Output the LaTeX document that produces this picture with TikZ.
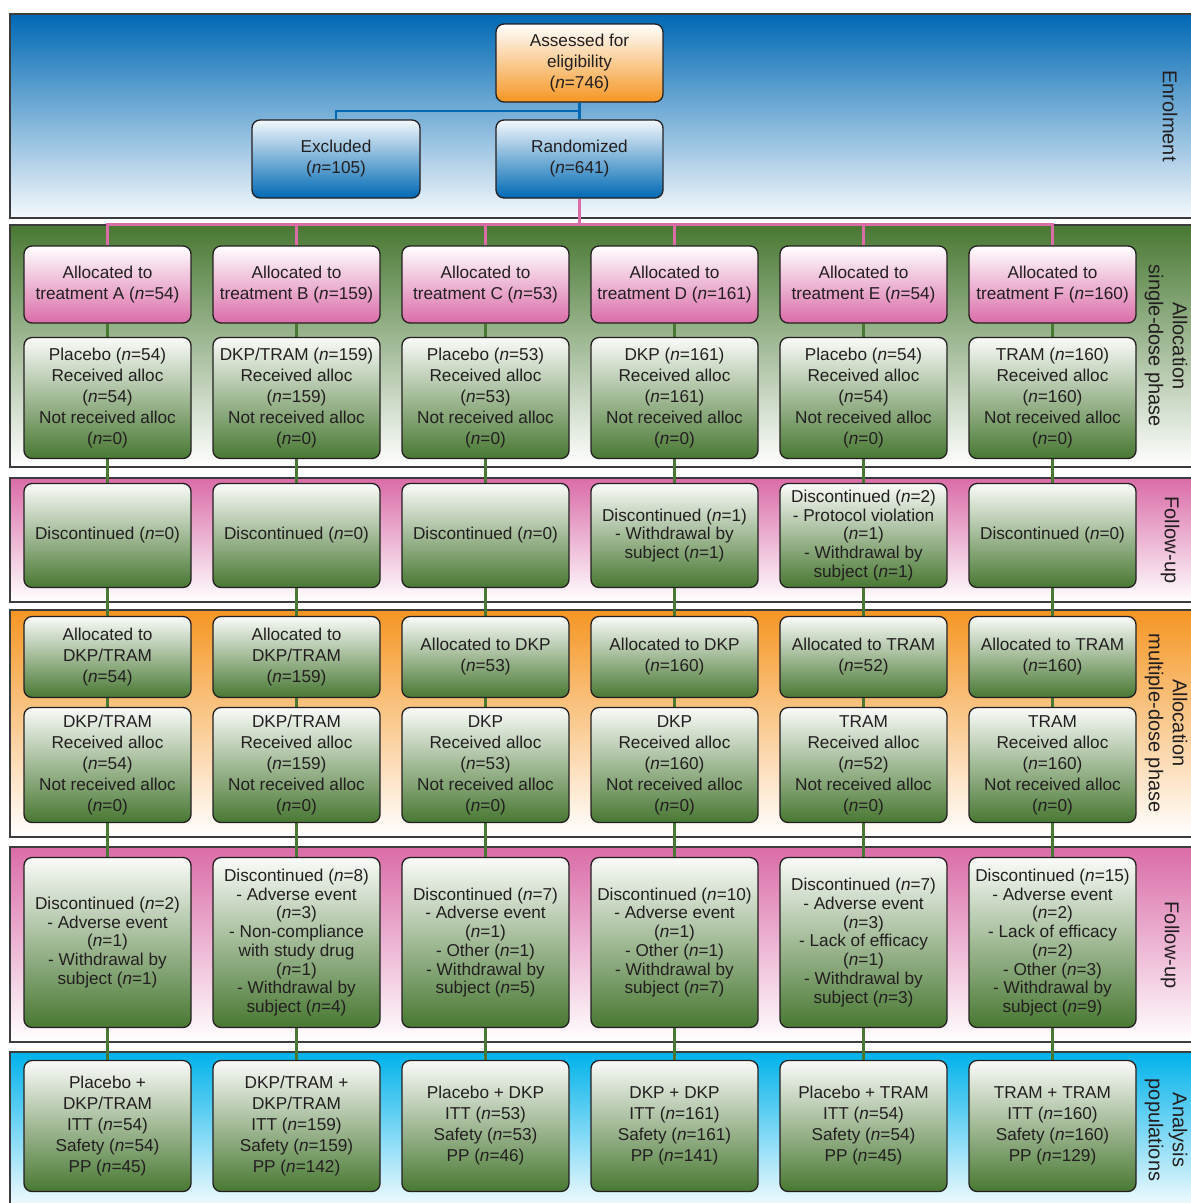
\documentclass[tikz,border=0pt]{standalone}
\usepackage{fontspec}
\setmainfont{Liberation Sans}
\pgfdeclarelayer{bands}
\pgfdeclarelayer{links}
\pgfsetlayers{bands,links,main}
\definecolor{ink}{RGB}{35,31,32}
\definecolor{cblue}{RGB}{0,105,180}
\definecolor{cgreen}{RGB}{72,120,50}
\definecolor{cpink}{RGB}{218,108,168}
\definecolor{corange}{RGB}{245,150,35}
\definecolor{ccyan}{RGB}{0,178,235}
\definecolor{cline}{RGB}{60,60,62}
\newcommand{\myn}{\textit{n}}
\tikzset{
  bx/.style={draw=ink, line width=1.3pt, rounded corners=8pt, minimum width=167pt,
    align=center, inner sep=0pt, text=ink, font=\fontsize{17.2}{21}\selectfont},
  gbox/.style={bx, top color=white!97!cgreen, bottom color=cgreen},
  dbox/.style={gbox, font=\fontsize{17.2}{18.7}\selectfont},
  pbox/.style={bx, top color=white, bottom color=cpink},
  bbox/.style={bx, top color=white!95!cblue, bottom color=cblue},
  obox/.style={bx, top color=white, bottom color=corange},
  band/.style={draw=cline, line width=1.5pt},
  side/.style={rotate=-90, align=center, text=ink, font=\fontsize{20}{24}\selectfont},
  r1/.style={minimum height=77pt},
  r2/.style={minimum height=121pt},
  r3/.style={minimum height=104pt},
  r4/.style={minimum height=81pt},
  r5/.style={minimum height=115pt},
  r6/.style={minimum height=170pt},
  r7/.style={minimum height=131pt},
  glink/.style={draw=cgreen, line width=2.3pt},
  plink/.style={draw=cpink, line width=2.5pt},
  blink/.style={draw=cblue, line width=2.5pt}
}
\begin{document}
\begin{tikzpicture}[x=1pt,y=-1pt]
\useasboundingbox (0,0) rectangle (1191,1203);
\clip (0,0) rectangle (1191,1203);
% bands
\begin{pgfonlayer}{bands}
\path[band, top color=cblue, bottom color=white!96!cblue] (10,14) rectangle (1200,218);
\path[band, top color=cgreen, bottom color=white] (10,225) rectangle (1200,467);
\path[band, top color=cpink, bottom color=white] (10,478) rectangle (1200,602);
\path[band, top color=corange, bottom color=white] (10,610) rectangle (1200,837);
\path[band, top color=cpink, bottom color=white] (10,847) rectangle (1200,1042);
\path[band, top color=ccyan, bottom color=white] (10,1052) rectangle (1200,1215);
\end{pgfonlayer}
% side labels
\node[side] (lab1) at (1170,116) {Enrolment};
\node[side] (lab2) at (1166,346) {Allocation\\single-dose phase};
\node[side] (lab3) at (1170,540) {Follow-up};
\node[side] (lab4) at (1166,723) {Allocation\\multiple-dose phase};
\node[side] (lab5) at (1170,945) {Follow-up};
\node[side] (lab6) at (1166,1130) {Analysis\\populations};
% top
\node[obox, minimum height=78pt] (assess) at (579.5,63) {Assessed for\\eligibility\\(\myn=746)};
\node[bbox, minimum height=78pt] (rand) at (579.5,159) {Randomized\\(\myn=641)};
\node[bbox, minimum height=78pt, minimum width=168pt] (excl) at (336,159) {Excluded\\(\myn=105)};
% row 1
\node[pbox,r1] (a1) at (107.5,284.5) {Allocated to\\treatment A (\myn=54)};
\node[pbox,r1] (b1) at (296.5,284.5) {Allocated to\\treatment B (\myn=159)};
\node[pbox,r1] (c1) at (485.5,284.5) {Allocated to\\treatment C (\myn=53)};
\node[pbox,r1] (d1) at (674.5,284.5) {Allocated to\\treatment D (\myn=161)};
\node[pbox,r1] (e1) at (863.5,284.5) {Allocated to\\treatment E (\myn=54)};
\node[pbox,r1] (f1) at (1052.5,284.5) {Allocated to\\treatment F (\myn=160)};
% row 2
\node[gbox,r2] (a2) at (107.5,398) {Placebo (\myn=54)\\Received alloc\\(\myn=54)\\Not received alloc\\(\myn=0)};
\node[gbox,r2] (b2) at (296.5,398) {DKP/TRAM (\myn=159)\\Received alloc\\(\myn=159)\\Not received alloc\\(\myn=0)};
\node[gbox,r2] (c2) at (485.5,398) {Placebo (\myn=53)\\Received alloc\\(\myn=53)\\Not received alloc\\(\myn=0)};
\node[gbox,r2] (d2) at (674.5,398) {DKP (\myn=161)\\Received alloc\\(\myn=161)\\Not received alloc\\(\myn=0)};
\node[gbox,r2] (e2) at (863.5,398) {Placebo (\myn=54)\\Received alloc\\(\myn=54)\\Not received alloc\\(\myn=0)};
\node[gbox,r2] (f2) at (1052.5,398) {TRAM (\myn=160)\\Received alloc\\(\myn=160)\\Not received alloc\\(\myn=0)};
% row 3
\node[dbox,r3] (a3) at (107.5,535.5) {Discontinued (\myn=0)};
\node[dbox,r3] (b3) at (296.5,535.5) {Discontinued (\myn=0)};
\node[dbox,r3] (c3) at (485.5,535.5) {Discontinued (\myn=0)};
\node[dbox,r3] (d3) at (674.5,535.5) {Discontinued (\myn=1)\\- Withdrawal by\\subject (\myn=1)};
\node[dbox,r3] (e3) at (863.5,535.5) {Discontinued (\myn=2)\\- Protocol violation\\(\myn=1)\\- Withdrawal by\\subject (\myn=1)};
\node[dbox,r3] (f3) at (1052.5,535.5) {Discontinued (\myn=0)};
% row 4
\node[gbox,r4] (a4) at (107.5,657) {Allocated to\\DKP/TRAM\\(\myn=54)};
\node[gbox,r4] (b4) at (296.5,657) {Allocated to\\DKP/TRAM\\(\myn=159)};
\node[gbox,r4] (c4) at (485.5,657) {Allocated to DKP\\(\myn=53)};
\node[gbox,r4] (d4) at (674.5,657) {Allocated to DKP\\(\myn=160)};
\node[gbox,r4] (e4) at (863.5,657) {Allocated to TRAM\\(\myn=52)};
\node[gbox,r4] (f4) at (1052.5,657) {Allocated to TRAM\\(\myn=160)};
% row 5
\node[gbox,r5] (a5) at (107.5,765) {DKP/TRAM\\Received alloc\\(\myn=54)\\Not received alloc\\(\myn=0)};
\node[gbox,r5] (b5) at (296.5,765) {DKP/TRAM\\Received alloc\\(\myn=159)\\Not received alloc\\(\myn=0)};
\node[gbox,r5] (c5) at (485.5,765) {DKP\\Received alloc\\(\myn=53)\\Not received alloc\\(\myn=0)};
\node[gbox,r5] (d5) at (674.5,765) {DKP\\Received alloc\\(\myn=160)\\Not received alloc\\(\myn=0)};
\node[gbox,r5] (e5) at (863.5,765) {TRAM\\Received alloc\\(\myn=52)\\Not received alloc\\(\myn=0)};
\node[gbox,r5] (f5) at (1052.5,765) {TRAM\\Received alloc\\(\myn=160)\\Not received alloc\\(\myn=0)};
% row 6
\node[dbox,r6] (a6) at (107.5,942.5) {Discontinued (\myn=2)\\- Adverse event\\(\myn=1)\\- Withdrawal by\\subject (\myn=1)};
\node[dbox,r6] (b6) at (296.5,942.5) {Discontinued (\myn=8)\\- Adverse event\\(\myn=3)\\- Non-compliance\\with study drug\\(\myn=1)\\- Withdrawal by\\subject (\myn=4)};
\node[dbox,r6] (c6) at (485.5,942.5) {Discontinued (\myn=7)\\- Adverse event\\(\myn=1)\\- Other (\myn=1)\\- Withdrawal by\\subject (\myn=5)};
\node[dbox,r6] (d6) at (674.5,942.5) {Discontinued (\myn=10)\\- Adverse event\\(\myn=1)\\- Other (\myn=1)\\- Withdrawal by\\subject (\myn=7)};
\node[dbox,r6] (e6) at (863.5,942.5) {Discontinued (\myn=7)\\- Adverse event\\(\myn=3)\\- Lack of efficacy\\(\myn=1)\\- Withdrawal by\\subject (\myn=3)};
\node[dbox,r6] (f6) at (1052.5,942.5) {Discontinued (\myn=15)\\- Adverse event\\(\myn=2)\\- Lack of efficacy\\(\myn=2)\\- Other (\myn=3)\\- Withdrawal by\\subject (\myn=9)};
% row 7
\node[gbox,r7] (a7) at (107.5,1126) {Placebo +\\DKP/TRAM\\ITT (\myn=54)\\Safety (\myn=54)\\PP (\myn=45)};
\node[gbox,r7] (b7) at (296.5,1126) {DKP/TRAM +\\DKP/TRAM\\ITT (\myn=159)\\Safety (\myn=159)\\PP (\myn=142)};
\node[gbox,r7] (c7) at (485.5,1126) {Placebo + DKP\\ITT (\myn=53)\\Safety (\myn=53)\\PP (\myn=46)};
\node[gbox,r7] (d7) at (674.5,1126) {DKP + DKP\\ITT (\myn=161)\\Safety (\myn=161)\\PP (\myn=141)};
\node[gbox,r7] (e7) at (863.5,1126) {Placebo + TRAM\\ITT (\myn=54)\\Safety (\myn=54)\\PP (\myn=45)};
\node[gbox,r7] (f7) at (1052.5,1126) {TRAM + TRAM\\ITT (\myn=160)\\Safety (\myn=160)\\PP (\myn=129)};
% connectors
\coordinate (bbar) at (0,111);
\coordinate (pbar) at (0,224.5);
\begin{pgfonlayer}{links}
\draw[blink] (assess.south) -- (rand.north);
\draw[blink] (assess.south |- bbar) -| (excl.north);
\draw[plink] (rand.south) -- (rand.south |- pbar);
\draw[plink, line cap=rect] (a1.north |- pbar) -- (f1.north |- pbar);
\foreach \c in {a,b,c,d,e,f}{
  \draw[plink] (\c1.north) -- (\c1.north |- pbar);
  \draw[glink] (\c1.south) -- (\c7.north);
}
\end{pgfonlayer}
\end{tikzpicture}
\end{document}
